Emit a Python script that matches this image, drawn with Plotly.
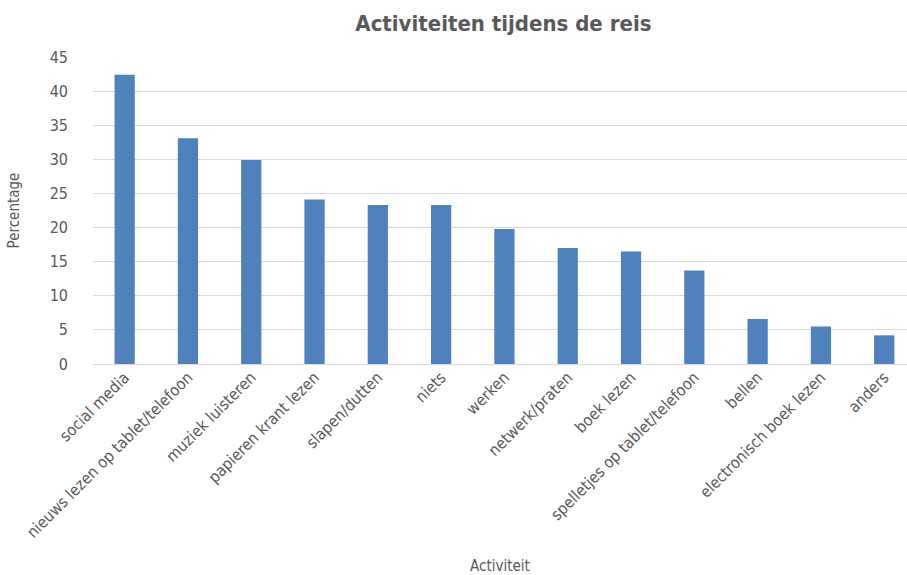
import plotly.graph_objects as go

categories = ["social media", "nieuws lezen op tablet/telefoon", "muziek luisteren",
              "papieren krant lezen", "slapen/dutten", "niets", "werken", "netwerk/praten",
              "boek lezen", "spelletjes op tablet/telefoon", "bellen",
              "electronisch boek lezen", "anders"]
values = [42.4, 33.1, 29.9, 24.1, 23.3, 23.3, 19.8, 17.0, 16.5, 13.7, 6.6, 5.5, 4.2]
y_ticks = [0, 5, 10, 15, 20, 25, 30, 35, 40, 45]

FONT = "Liberation Sans Narrow, DejaVu Sans Condensed, Arial Narrow, sans-serif"
GREY = "#595959"

fig = go.Figure(go.Bar(x=categories, y=values, marker=dict(color="#4f81bd", line=dict(width=0))))

fig.update_layout(
    width=907, height=575,
    paper_bgcolor="white", plot_bgcolor="white",
    margin=dict(l=93, r=0, t=57, b=211, autoexpand=False),
    bargap=0.68,
    showlegend=False,
    font=dict(family=FONT, color=GREY, size=15),
    title=dict(text="<b>Activiteiten tijdens de reis</b>", x=0.555, xanchor="center",
               y=0.96, yanchor="middle",
               font=dict(family=FONT, size=22, color=GREY)),
)
fig.update_xaxes(
    type="category", range=[-0.5, 12.36], tickangle=-45,
    showgrid=False, showline=False, ticks="",
    tickfont=dict(size=16, color=GREY),
    title=dict(text="Activiteit", font=dict(size=15, color=GREY), standoff=22),
)
fig.update_yaxes(
    range=[0, 45], tickvals=y_ticks, showgrid=True, gridcolor="#d9d9d9", gridwidth=1,
    zeroline=True, zerolinecolor="#d9d9d9", zerolinewidth=1, showline=False, ticks="",
    ticklabelstandoff=24,
    tickfont=dict(size=16, color=GREY),
    title=dict(text="Percentage", font=dict(size=15, color=GREY), standoff=26),
)

fig.write_html("out.html", config={"displayModeBar": False},
               post_script="document.body.style.margin='0';document.body.style.padding='0';")
